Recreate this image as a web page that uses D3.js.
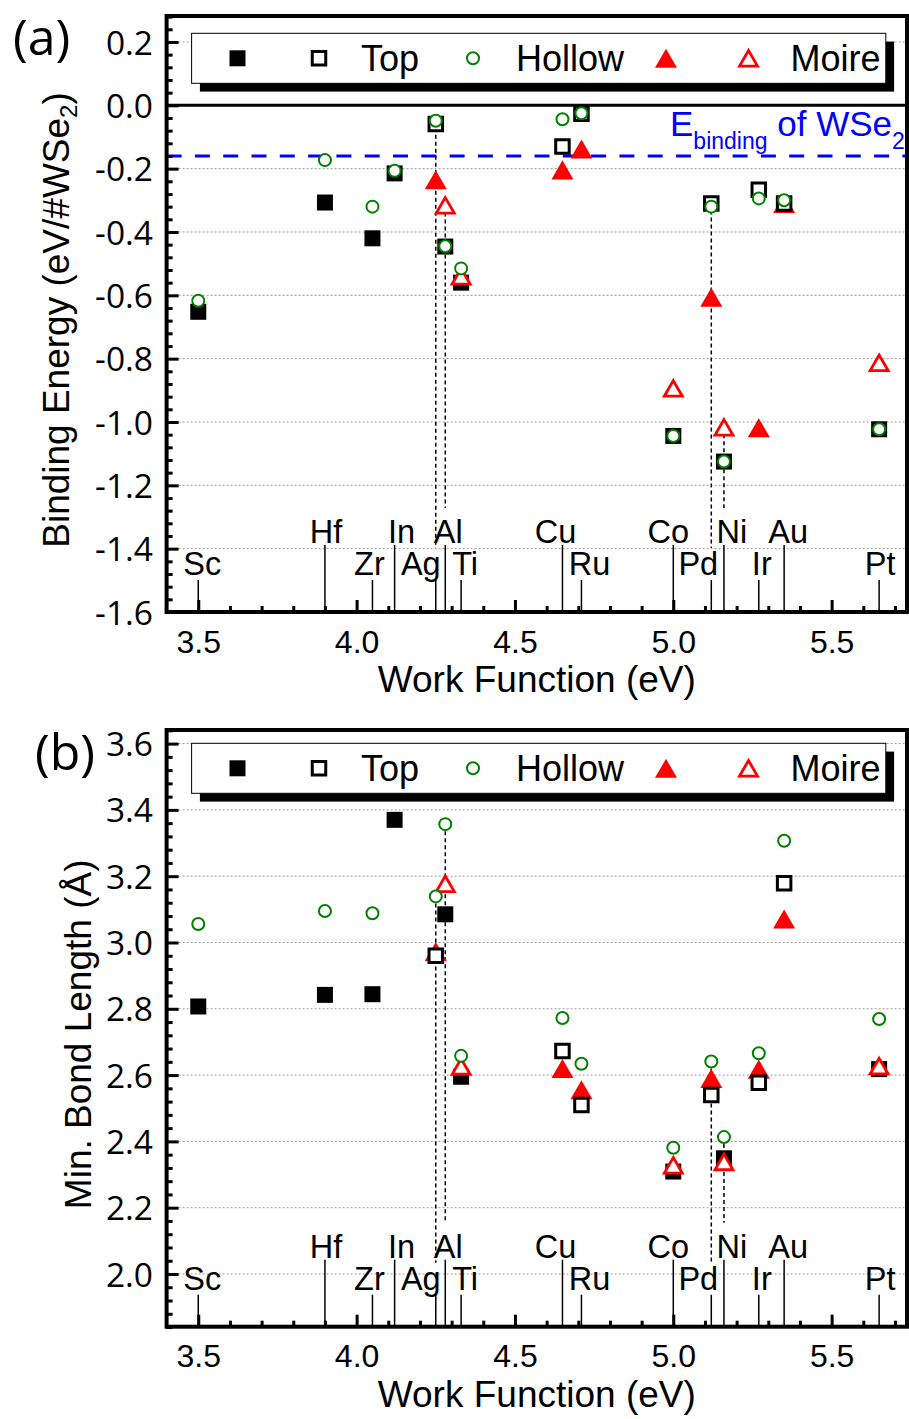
<!DOCTYPE html>
<html>
<head>
<meta charset="utf-8">
<script src="https://cdn.jsdelivr.net/npm/d3@7"></script>
<style>
  body { margin: 0; background: #fff; }
  svg { display: block; }
  text { white-space: pre; }
</style>
</head>
<body>
<script>
// ---- data ----------------------------------------------------------------
const metals       = ["Sc", "Hf", "Zr", "In", "Ag", "Al", "Ti", "Cu", "Ru", "Co", "Pd", "Ni", "Ir", "Au", "Pt"];
const workFunction = [3.50, 3.90, 4.05, 4.12, 4.25, 4.28, 4.33, 4.65, 4.71, 5.00, 5.12, 5.16, 5.27, 5.35, 5.65];

// binding energy (eV per WSe2 unit)
const energyTopFilled   = [-0.652, -0.307, -0.420, -0.215, null, -0.446, -0.560, null, null, -1.044, null, -1.125, null, null, -1.023];
const energyTopOpen     = [null, null, null, null, -0.059, null, null, -0.130, -0.027, null, -0.310, null, -0.267, -0.310, null];
const energyHollow      = [-0.617, -0.173, -0.320, -0.207, -0.049, -0.445, -0.515, -0.044, -0.025, -1.044, -0.320, -1.125, -0.294, -0.300, -1.023];
const energyMoireFilled = [null, null, null, null, -0.235, null, null, -0.204, -0.138, null, -0.606, null, -1.018, -0.310, null];
const energyMoireOpen   = [null, null, null, null, null, -0.316, -0.540, null, null, -0.894, null, -1.017, null, null, -0.813];

// minimum metal–Se bond length (Å)
const bondTopFilled   = [2.807, 2.842, 2.844, 3.370, null, 3.085, 2.595, null, null, 2.309, null, 2.349, null, null, 2.618];
const bondTopOpen     = [null, null, null, null, 2.960, null, null, 2.673, 2.510, null, 2.540, null, 2.577, 3.179, null];
const bondHollow      = [3.056, 3.095, 3.088, null, 3.139, 3.357, 2.658, 2.772, 2.634, 2.381, 2.641, 2.413, 2.666, 3.307, 2.769];
const bondMoireFilled = [null, null, null, null, 2.973, null, null, 2.620, 2.556, null, 2.590, null, 2.618, 3.071, null];
const bondMoireOpen   = [null, null, null, null, null, 3.177, 2.626, null, null, 2.328, null, 2.338, null, null, 2.627];

const wse2Binding = -0.16;                       // binding energy of the WSe2 layer
const guideMetals = ["Ag", "Al", "Pd", "Ni"];     // dashed drop lines
const upperRowMetals = ["Hf", "In", "Al", "Cu", "Co", "Ni", "Au"];

const xTicks      = [3.5, 4.0, 4.5, 5.0, 5.5];
const energyTicks = [-1.6, -1.4, -1.2, -1.0, -0.8, -0.6, -0.4, -0.2, 0.0, 0.2];
const bondTicks   = [2.0, 2.2, 2.4, 2.6, 2.8, 3.0, 3.2, 3.4, 3.6];
const legendLabels = ["Top", "Hollow", "Moire"];

// ---- layout / style ------------------------------------------------------
const W = 909, H = 1419;
const X0 = 166.6, X1 = 907;
const SANS = "'Liberation Sans', Arial, sans-serif";
const ROUND = "'Open Sans', 'Liberation Sans', sans-serif";
const labelShift = { Sc: 4, Hf: 1, Zr: -3, In: 7, Ag: -15, Al: 3, Ti: 4, Cu: -7, Ru: 8, Co: -5, Pd: -13, Ni: 8, Ir: 3, Au: 4, Pt: 1 };

const styles = {
  moireFilled: { type: d3.symbolTriangle, size: 210, fill: "#ff0000", stroke: "none", sw: 0 },
  topFilled:   { type: d3.symbolSquare,   size: 256, fill: "#000000", stroke: "none", sw: 0 },
  topOpen:     { type: d3.symbolSquare,   size: 182, fill: "#ffffff", stroke: "#000000", sw: 3 },
  moireOpen:   { type: d3.symbolTriangle, size: 140, fill: "#ffffff", stroke: "#ff0000", sw: 2.8 },
  hollow:      { type: d3.symbolCircle,   size: 113, fill: "#ffffff", stroke: "#008000", sw: 2 }
};
const drawOrder = ["moireFilled", "topFilled", "topOpen", "moireOpen", "hollow"];

function symbolPath(key) {
  return d3.symbol().type(styles[key].type).size(styles[key].size)();
}
// triangles are centred on their bounding box
function symbolDy(key) {
  if (styles[key].type !== d3.symbolTriangle) return 0;
  const a = Math.sqrt(styles[key].size / (3 * Math.sqrt(3)));
  return a / 2;
}

const x = d3.scaleLinear().domain([3.4, 5.738]).range([X0, X1]);

const svg = d3.select("body").append("svg")
  .attr("width", W).attr("height", H)
  .attr("viewBox", `0 0 ${W} ${H}`);
svg.append("rect").attr("width", W).attr("height", H).attr("fill", "#fff");

const panels = [
  {
    top: 16, bottom: 612, domain: [-1.6, 0.282], ticks: energyTicks,
    minor: d3.range(-40, 8).filter(i => i % 5).map(i => i * 0.04),
    values: { topFilled: energyTopFilled, topOpen: energyTopOpen, hollow: energyHollow,
              moireFilled: energyMoireFilled, moireOpen: energyMoireOpen },
    title: ["Binding Energy (eV/#WSe", "2", ")"], titleX: 68.7,
    tag: "(a)", tagX: 13, tagY: 55, legendTop: 33.3, zeroLine: true
  },
  {
    top: 730, bottom: 1326.7, domain: [1.841, 3.641], ticks: bondTicks,
    minor: d3.range(46, 92).filter(i => i % 5).map(i => i * 0.04),
    values: { topFilled: bondTopFilled, topOpen: bondTopOpen, hollow: bondHollow,
              moireFilled: bondMoireFilled, moireOpen: bondMoireOpen },
    title: ["Min. Bond Length (Å)"], titleX: 91,
    tag: "(b)", tagX: 35, tagY: 770, legendTop: 743.3, zeroLine: false
  }
];

const minorX = d3.range(35, 58).filter(i => i % 5).map(i => i / 10);

panels.forEach(p => {
  const g = svg.append("g");
  const y = d3.scaleLinear().domain(p.domain).range([p.bottom, p.top]);

  // dotted grid at major values
  g.append("g").selectAll("line")
    .data(p.ticks.filter(t => t !== 0 && y(t) < p.bottom - 2))
    .join("line")
    .attr("x1", X0).attr("x2", X1)
    .attr("y1", d => y(d)).attr("y2", d => y(d))
    .attr("stroke", "#9a9a9a").attr("stroke-width", 1).attr("stroke-dasharray", "2,2");

  if (p.zeroLine) {
    g.append("line").attr("x1", X0).attr("x2", X1).attr("y1", y(0)).attr("y2", y(0))
      .attr("stroke", "#000").attr("stroke-width", 3);
    g.append("line").attr("x1", X0).attr("x2", X1)
      .attr("y1", y(wse2Binding)).attr("y2", y(wse2Binding))
      .attr("stroke", "#0000ff").attr("stroke-width", 3).attr("stroke-dasharray", "15,13.3");
    const t = g.append("text").attr("x", 670).attr("y", y(wse2Binding) - 20)
      .attr("fill", "#0000ff").attr("font-family", SANS).attr("font-size", 35);
    t.append("tspan").text("E");
    t.append("tspan").attr("font-size", 23).attr("dy", 13).text("binding");
    t.append("tspan").attr("dy", -13).text(" of WSe");
    t.append("tspan").attr("font-size", 23).attr("dy", 13).text("2");
  }

  // metal markers along the work-function axis
  metals.forEach((m, i) => {
    const upper = upperRowMetals.includes(m);
    const xv = x(workFunction[i]);
    g.append("line").attr("x1", xv).attr("x2", xv)
      .attr("y1", p.bottom).attr("y2", p.bottom - (upper ? 67 : 32))
      .attr("stroke", "#000").attr("stroke-width", 1.5);
    g.append("text").attr("x", xv + labelShift[m])
      .attr("y", p.bottom - (upper ? 69 : 37))
      .attr("text-anchor", "middle").attr("font-family", SANS).attr("font-size", 32.5)
      .attr("fill", "#000").text(m);
  });

  // dashed drop lines
  guideMetals.forEach(m => {
    const i = metals.indexOf(m);
    const vals = Object.values(p.values).map(a => a[i]).filter(v => v != null);
    const upper = upperRowMetals.includes(m);
    g.append("line").attr("x1", x(workFunction[i])).attr("x2", x(workFunction[i]))
      .attr("y1", y(d3.max(vals))).attr("y2", p.bottom - (upper ? 104 : 64))
      .attr("stroke", "#000").attr("stroke-width", 1.5).attr("stroke-dasharray", "4,3");
  });

  // data points
  drawOrder.forEach(key => {
    const st = styles[key];
    const pts = metals.map((m, i) => ({ wf: workFunction[i], v: p.values[key][i] }))
      .filter(d => d.v != null);
    g.append("g").selectAll("path").data(pts).join("path")
      .attr("d", symbolPath(key))
      .attr("transform", d => `translate(${x(d.wf)},${y(d.v) + symbolDy(key)})`)
      .attr("fill", st.fill).attr("stroke", st.stroke).attr("stroke-width", st.sw)
      .attr("stroke-linejoin", "miter");
  });

  // legend
  const lt = p.legendTop, lh = 50, lx = 191.6, lw = 694.2;
  const lg = g.append("g");
  lg.append("rect").attr("x", lx + 8.3).attr("y", lt + 8.3).attr("width", lw).attr("height", lh).attr("fill", "#000");
  lg.append("rect").attr("x", lx).attr("y", lt).attr("width", lw).attr("height", lh)
    .attr("fill", "#fff").attr("stroke", "#000").attr("stroke-width", 1);
  const cy = lt + lh / 2;
  const legendItems = [
    { key: "topFilled", mx: 237.5 },
    { key: "topOpen", mx: 319, label: legendLabels[0], tx: 361 },
    { key: "hollow", mx: 473, label: legendLabels[1], tx: 516 },
    { key: "moireFilled", mx: 666 },
    { key: "moireOpen", mx: 748.5, label: legendLabels[2], tx: 790.6 }
  ];
  legendItems.forEach(it => {
    const st = styles[it.key];
    lg.append("path").attr("d", symbolPath(it.key))
      .attr("transform", `translate(${it.mx},${cy + symbolDy(it.key)})`)
      .attr("fill", st.fill).attr("stroke", st.stroke).attr("stroke-width", st.sw);
    if (it.label) {
      lg.append("text").attr("x", it.tx).attr("y", cy + 12.7)
        .attr("font-family", SANS).attr("font-size", 36).attr("fill", "#000").text(it.label);
    }
  });

  // axes (ticks point inward)
  const styleAxis = sel => {
    sel.select(".domain").remove();
    sel.selectAll(".tick line").attr("stroke", "#000").attr("stroke-width", 3);
  };
  g.append("g").attr("transform", `translate(0,${p.bottom})`)
    .call(d3.axisBottom(x).tickValues(minorX).tickFormat("").tickSize(-6))
    .call(styleAxis);
  g.append("g").attr("transform", `translate(0,${p.bottom})`)
    .call(d3.axisBottom(x).tickValues(xTicks).tickFormat(d => d.toFixed(1)).tickSize(-12).tickPadding(18))
    .call(styleAxis)
    .call(a => a.selectAll("text").attr("font-family", SANS).attr("font-size", 32).attr("fill", "#000"));
  g.append("g").attr("transform", `translate(${X0},0)`)
    .call(d3.axisLeft(y).tickValues(p.minor).tickFormat("").tickSize(-6))
    .call(styleAxis);
  g.append("g").attr("transform", `translate(${X0},0)`)
    .call(d3.axisLeft(y).tickValues(p.ticks).tickFormat(d => d.toFixed(1)).tickSize(-12).tickPadding(13.6))
    .call(styleAxis)
    .call(a => a.selectAll("text").attr("font-family", ROUND).attr("font-size", 33.5)
      .attr("fill", "#000").attr("dy", "0.36em"));

  // frame
  g.append("rect").attr("x", X0).attr("y", p.top).attr("width", X1 - X0).attr("height", p.bottom - p.top)
    .attr("fill", "none").attr("stroke", "#000").attr("stroke-width", 4);

  // axis titles
  g.append("text").attr("x", (X0 + X1) / 2).attr("y", p.bottom + 80)
    .attr("text-anchor", "middle").attr("font-family", SANS).attr("font-size", 37)
    .attr("fill", "#000").text("Work Function (eV)");
  const yt = g.append("text")
    .attr("transform", `translate(${p.titleX},${(p.top + p.bottom) / 2 + 6}) rotate(-90)`)
    .attr("text-anchor", "middle").attr("font-family", SANS).attr("font-size", 37).attr("fill", "#000");
  yt.append("tspan").text(p.title[0]);
  if (p.title.length > 1) {
    yt.append("tspan").attr("font-size", 24).attr("dy", 8).text(p.title[1]);
    yt.append("tspan").attr("dy", -8).text(p.title[2]);
  }

  // panel tag
  g.append("text").attr("x", p.tagX).attr("y", p.tagY)
    .attr("font-family", ROUND).attr("font-size", 50).attr("fill", "#000").text(p.tag);
});
</script>
</body>
</html>
